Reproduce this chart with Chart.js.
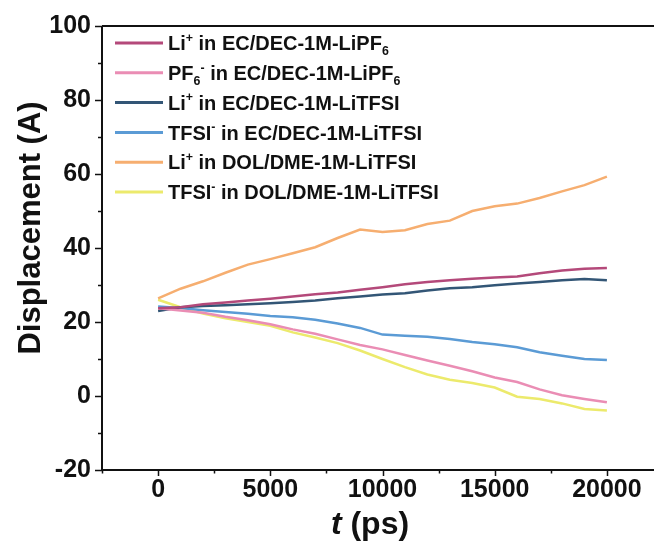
<!DOCTYPE html>
<html>
<head>
<meta charset="utf-8">
<script src="https://cdn.jsdelivr.net/npm/chart.js@4.4.0/dist/chart.umd.min.js"></script>
<style>
  html, body { margin: 0; padding: 0; background: #fff; overflow: hidden; }
  #wrap { width: 654px; height: 546px; overflow: hidden; position: relative; }
  #myChart { display: block; }
</style>
</head>
<body>
<div id="wrap"><canvas id="myChart" width="670" height="546"></canvas></div>
<script>
// time axis (ps)
const times = [0, 1000, 2000, 3000, 4000, 5000, 6000, 7000, 8000, 9000, 10000,
    11000, 12000, 13000, 14000, 15000, 16000, 17000, 18000, 19000, 20000];

// displacement values
const liEcPf6 = [23.7, 24.0, 24.8, 25.3, 25.8, 26.3, 26.9, 27.5, 28.0, 28.7, 29.4,
    30.2, 30.8, 31.3, 31.7, 32.0, 32.3, 33.2, 33.9, 34.4, 34.6];
const pf6EcPf6 = [23.7, 23.1, 22.5, 21.4, 20.5, 19.4, 18.0, 16.8, 15.3, 13.8, 12.6,
    11.1, 9.6, 8.2, 6.7, 5.0, 3.8, 1.8, 0.2, -0.8, -1.7];
const liEcTfsi = [23.0, 24.0, 24.3, 24.5, 24.8, 25.1, 25.4, 25.8, 26.4, 26.9, 27.4,
    27.8, 28.5, 29.1, 29.4, 29.9, 30.4, 30.8, 31.3, 31.6, 31.3];
const tfsiEcTfsi = [24.2, 23.8, 23.2, 22.7, 22.2, 21.6, 21.3, 20.6, 19.6, 18.4, 16.6,
    16.3, 16.0, 15.4, 14.6, 14.0, 13.2, 11.8, 10.9, 10.0, 9.7];
const liDolTfsi = [26.4, 29.0, 31.0, 33.3, 35.5, 37.0, 38.6, 40.2, 42.7, 45.0, 44.3,
    44.8, 46.5, 47.4, 50.0, 51.3, 52.0, 53.5, 55.3, 57.0, 59.3];
const tfsiDolTfsi = [26.0, 24.0, 22.3, 21.0, 20.0, 19.0, 17.2, 15.8, 14.3, 12.3, 10.0,
    7.8, 5.8, 4.4, 3.5, 2.3, -0.2, -0.8, -2.0, -3.5, -3.9];

// ^{..} superscript, _{..} subscript
const seriesLabels = [
    'Li^{+} in EC/DEC-1M-LiPF_{6}',
    'PF_{6}^{-} in EC/DEC-1M-LiPF_{6}',
    'Li^{+} in EC/DEC-1M-LiTFSI',
    'TFSI^{-} in EC/DEC-1M-LiTFSI',
    'Li^{+} in DOL/DME-1M-LiTFSI',
    'TFSI^{-} in DOL/DME-1M-LiTFSI'
];
const seriesValues = [liEcPf6, pf6EcPf6, liEcTfsi, tfsiEcTfsi, liDolTfsi, tfsiDolTfsi];
const seriesColors = ['#b4497a', '#ea8db4', '#335676', '#5b9bd5', '#f6ae70', '#ecea6c'];

const xMajorTicks = [0, 5000, 10000, 15000, 20000];
const yMajorTicks = [-20, 0, 20, 40, 60, 80, 100];

const FONT = '"Liberation Sans", Arial, sans-serif';

function parseLabel(str) {
    const parts = [];
    const re = /(\^\{[^}]*\}|_\{[^}]*\})/g;
    let last = 0, m;
    while ((m = re.exec(str)) !== null) {
        if (m.index > last) parts.push({ t: str.slice(last, m.index), k: 'n' });
        parts.push({ t: m[0].slice(2, -1), k: m[0][0] === '^' ? 'sup' : 'sub' });
        last = re.lastIndex;
    }
    if (last < str.length) parts.push({ t: str.slice(last), k: 'n' });
    return parts;
}

const frame = {
    id: 'frame',
    afterDraw(chart) {
        const c = chart.ctx;
        const a = chart.chartArea;
        const xs = chart.scales.x, ys = chart.scales.y;
        c.save();
        c.strokeStyle = '#111';
        c.lineWidth = 2;
        c.beginPath();
        c.moveTo(a.left, a.top); c.lineTo(a.right, a.top);
        c.moveTo(a.left, a.top); c.lineTo(a.left, a.bottom);
        c.moveTo(a.left, a.bottom); c.lineTo(a.right, a.bottom);
        c.stroke();

        c.lineWidth = 1.5;
        c.beginPath();
        for (let v = -2500; v <= 22500; v += 2500) {
            const px = Math.round(xs.getPixelForValue(v)) + 0.5;
            const len = (v % 5000 === 0) ? 6 : 3.5;
            c.moveTo(px, a.bottom); c.lineTo(px, a.bottom + len);
        }
        for (let v = -20; v <= 100; v += 10) {
            const py = Math.round(ys.getPixelForValue(v)) + 0.5;
            const len = (v % 20 === 0) ? 7 : 4;
            c.moveTo(a.left, py); c.lineTo(a.left - len, py);
        }
        c.stroke();

        // axis titles
        c.fillStyle = '#111';
        c.textBaseline = 'middle';
        c.textAlign = 'center';
        c.save();
        c.translate(31, 228);
        c.rotate(-Math.PI / 2);
        c.font = 'bold 31px ' + FONT;
        c.fillText('Displacement (A)', 0, 0);
        c.restore();

        c.textBaseline = 'alphabetic';
        c.textAlign = 'left';
        const tx = 370, ty = 534;
        c.font = 'italic bold 32px ' + FONT;
        const w1 = c.measureText('t').width;
        c.font = 'bold 32px ' + FONT;
        const w2 = c.measureText(' (ps)').width;
        let sx = tx - (w1 + w2) / 2;
        c.font = 'italic bold 32px ' + FONT;
        c.fillText('t', sx, ty);
        c.font = 'bold 32px ' + FONT;
        c.fillText(' (ps)', sx + w1, ty);

        // legend
        const size = 20;
        seriesLabels.forEach((lab, i) => {
            const y = 43 + i * 29.8;
            c.strokeStyle = seriesColors[i];
            c.lineWidth = 3;
            c.beginPath();
            c.moveTo(115, y); c.lineTo(163, y);
            c.stroke();
            let x = 168;
            c.fillStyle = '#111';
            c.textBaseline = 'alphabetic';
            const base = y + size * 0.36;
            parseLabel(lab).forEach(p => {
                let fs = size, dy = 0;
                if (p.k === 'sup') { fs = size * 0.62; dy = -size * 0.42; }
                if (p.k === 'sub') { fs = size * 0.62; dy = size * 0.25; }
                c.font = 'bold ' + fs + 'px ' + FONT;
                c.fillText(p.t, x, base + dy);
                x += c.measureText(p.t).width;
            });
        });
        c.restore();
    }
};

const data = {
    datasets: seriesValues.map((vals, i) => ({
        label: seriesLabels[i].replace(/[\^_]\{([^}]*)\}/g, '$1'),
        data: times.map((t, j) => ({ x: t, y: vals[j] })),
        borderColor: seriesColors[i],
        borderWidth: 2.5,
        pointRadius: 0,
        tension: 0,
        fill: false
    }))
};

const config = {
    type: 'line',
    data: data,
    options: {
        responsive: false,
        animation: false,
        layout: { padding: { top: 22, left: 0, right: 7, bottom: 0 } },
        plugins: {
            legend: { display: false },
            tooltip: { enabled: false }
        },
        scales: {
            x: {
                type: 'linear',
                min: -2500,
                max: 22500,
                afterBuildTicks: s => { s.ticks = xMajorTicks.map(v => ({ value: v })); },
                afterFit: s => { s.height = 76; },
                grid: { display: false, drawTicks: false },
                border: { display: false },
                ticks: {
                    color: '#111',
                    padding: 5,
                    maxRotation: 0,
                    callback: v => String(v),
                    font: { family: FONT, size: 25, weight: 'bold' }
                }
            },
            y: {
                min: -20,
                max: 100,
                afterBuildTicks: s => { s.ticks = yMajorTicks.map(v => ({ value: v })); },
                afterFit: s => { s.width = 102; },
                grid: { display: false, drawTicks: false },
                border: { display: false },
                ticks: {
                    color: '#111',
                    padding: 11,
                    callback: v => String(v),
                    font: { family: FONT, size: 25, weight: 'bold' }
                }
            }
        }
    },
    plugins: [frame]
};

new Chart(document.getElementById('myChart'), config);
</script>
</body>
</html>
